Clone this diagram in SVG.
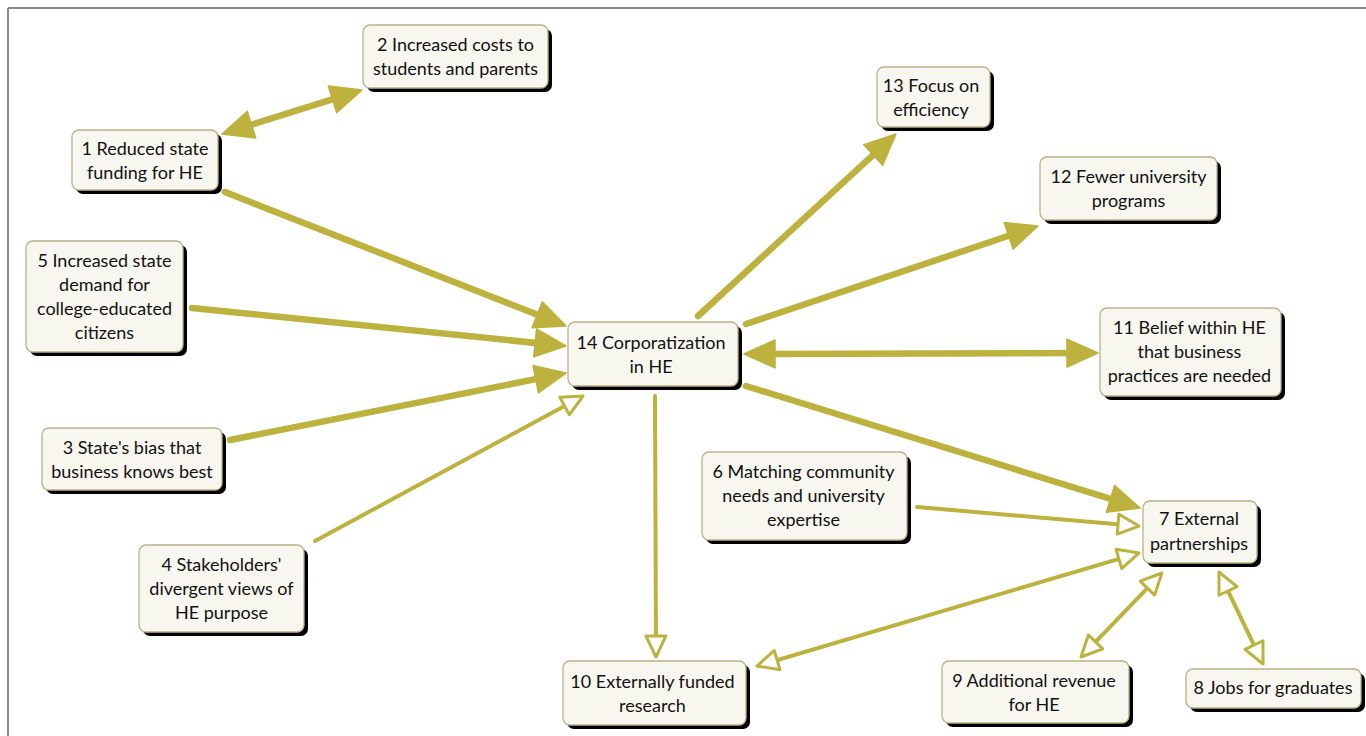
<svg xmlns="http://www.w3.org/2000/svg" width="1366" height="736" viewBox="0 0 1366 736">
  <style>
    .shadow { fill: #000; }
    .box { fill: #f8f7ef; stroke: #b9b28a; stroke-width: 1.3; }
    .label { font-family: Lato, "Liberation Sans", sans-serif; font-size: 18px; fill: #111111; text-anchor: middle; }
    .thick { stroke: #bdb23e; stroke-width: 6.5; fill: none; stroke-linecap: round; marker-end: url(#solid); }
    .thick.both { marker-start: url(#solid); }
    .thin { stroke: #bdb23e; stroke-width: 4; fill: none; stroke-linecap: round; marker-end: url(#open); }
    .thin.both { marker-start: url(#open); }
  </style>
  <defs>
    <marker id="solid" markerUnits="userSpaceOnUse" viewBox="0 0 34 32" markerWidth="34" markerHeight="32" refX="24" refY="16" orient="auto-start-reverse">
      <path d="M1,2 L32,16 L1,30 Z" fill="#bdb23e" stroke="#bdb23e" stroke-width="1.5" stroke-linejoin="round"/>
    </marker>
    <marker id="open" markerUnits="userSpaceOnUse" viewBox="0 0 28 26" markerWidth="28" markerHeight="26" refX="19" refY="13" orient="auto-start-reverse">
      <path d="M2,3 L23,13 L2,23 Z" fill="#ffffff" stroke="#bdb23e" stroke-width="3" stroke-linejoin="round"/>
    </marker>
  </defs>

  <rect width="1366" height="736" fill="#ffffff"/>
  <!-- frame -->
  <line x1="8" y1="8" x2="1366" y2="8" stroke="#8a8a8a" stroke-width="2"/>
  <line x1="8" y1="8" x2="8" y2="736" stroke="#8a8a8a" stroke-width="2"/>

  <g id="connectors">
    <line class="thick both" x1="229.6" y1="131.6" x2="354.4" y2="92.4"/>
    <line class="thick" x1="225" y1="192" x2="558.6" y2="323.1"/>
    <line class="thick" x1="192" y1="308" x2="558" y2="345.2"/>
    <line class="thick" x1="230" y1="440" x2="558.2" y2="374.6"/>
    <line class="thin" x1="315" y1="541" x2="579.5" y2="397.9"/>
    <line class="thick" x1="698" y1="316" x2="890.1" y2="139.4"/>
    <line class="thick" x1="746" y1="324" x2="1030.4" y2="228.5"/>
    <line class="thick both" x1="752" y1="354" x2="1090" y2="353"/>
    <line class="thick" x1="746" y1="386" x2="1132.4" y2="505.6"/>
    <line class="thin" x1="655" y1="396" x2="656" y2="653"/>
    <line class="thin" x1="917" y1="507" x2="1135" y2="525.7"/>
    <line class="thin both" x1="760.8" y1="664.9" x2="1135.2" y2="554.1"/>
    <line class="thin both" x1="1083.8" y1="654.1" x2="1159.2" y2="575.9"/>
    <line class="thin both" x1="1220.7" y1="575.6" x2="1261.3" y2="660.4"/>
  </g>

  <g id="node2">
    <rect class="shadow" x="367" y="29" width="185" height="63" rx="7"/>
    <rect class="box" x="363" y="25" width="185" height="63" rx="7"/>
    <text class="label" x="455.5" y="51">2 Increased costs to</text>
    <text class="label" x="455.5" y="75">students and parents</text>
  </g>
  <g id="node1">
    <rect class="shadow" x="76" y="134" width="146" height="60" rx="7"/>
    <rect class="box" x="72" y="130" width="146" height="60" rx="7"/>
    <text class="label" x="145" y="155">1 Reduced state</text>
    <text class="label" x="145" y="179">funding for HE</text>
  </g>
  <g id="node5">
    <rect class="shadow" x="30" y="245" width="157" height="111" rx="7"/>
    <rect class="box" x="26" y="241" width="157" height="111" rx="7"/>
    <text class="label" x="104.5" y="267">5 Increased state</text>
    <text class="label" x="104.5" y="291">demand for</text>
    <text class="label" x="104.5" y="315">college-educated</text>
    <text class="label" x="104.5" y="339">citizens</text>
  </g>
  <g id="node3">
    <rect class="shadow" x="46" y="432" width="180" height="62" rx="7"/>
    <rect class="box" x="42" y="428" width="180" height="62" rx="7"/>
    <text class="label" x="132" y="454">3 State's bias that</text>
    <text class="label" x="132" y="478">business knows best</text>
  </g>
  <g id="node4">
    <rect class="shadow" x="143" y="549" width="165" height="87" rx="7"/>
    <rect class="box" x="139" y="545" width="165" height="87" rx="7"/>
    <text class="label" x="221.5" y="571">4 Stakeholders'</text>
    <text class="label" x="221.5" y="595">divergent views of</text>
    <text class="label" x="221.5" y="619">HE purpose</text>
  </g>
  <g id="node14">
    <rect class="shadow" x="572" y="326" width="170" height="64" rx="7"/>
    <rect class="box" x="568" y="322" width="170" height="64" rx="7"/>
    <text class="label" x="651" y="349">14 Corporatization</text>
    <text class="label" x="651" y="373">in HE</text>
  </g>
  <g id="node13">
    <rect class="shadow" x="881" y="71" width="113" height="60" rx="7"/>
    <rect class="box" x="877" y="67" width="113" height="60" rx="7"/>
    <text class="label" x="931" y="92">13 Focus on</text>
    <text class="label" x="931" y="116">efficiency</text>
  </g>
  <g id="node12">
    <rect class="shadow" x="1044" y="161" width="177" height="63" rx="7"/>
    <rect class="box" x="1040" y="157" width="177" height="63" rx="7"/>
    <text class="label" x="1128.5" y="183">12 Fewer university</text>
    <text class="label" x="1128.5" y="207">programs</text>
  </g>
  <g id="node11">
    <rect class="shadow" x="1104" y="312" width="181" height="88" rx="7"/>
    <rect class="box" x="1100" y="308" width="181" height="88" rx="7"/>
    <text class="label" x="1189.5" y="334">11 Belief within HE</text>
    <text class="label" x="1189.5" y="358">that business</text>
    <text class="label" x="1189.5" y="382">practices are needed</text>
  </g>
  <g id="node6">
    <rect class="shadow" x="706" y="456" width="205" height="88" rx="7"/>
    <rect class="box" x="702" y="452" width="205" height="88" rx="7"/>
    <text class="label" x="803.5" y="478">6 Matching community</text>
    <text class="label" x="803.5" y="502">needs and university</text>
    <text class="label" x="803.5" y="526">expertise</text>
  </g>
  <g id="node7">
    <rect class="shadow" x="1147" y="505" width="114" height="62" rx="7"/>
    <rect class="box" x="1143" y="501" width="114" height="62" rx="7"/>
    <text class="label" x="1199" y="525">7 External</text>
    <text class="label" x="1199" y="550">partnerships</text>
  </g>
  <g id="node10">
    <rect class="shadow" x="567" y="665" width="183" height="64" rx="7"/>
    <rect class="box" x="563" y="661" width="183" height="64" rx="7"/>
    <text class="label" x="652.5" y="688">10 Externally funded</text>
    <text class="label" x="652.5" y="712">research</text>
  </g>
  <g id="node9">
    <rect class="shadow" x="946" y="665" width="187" height="62" rx="7"/>
    <rect class="box" x="942" y="661" width="187" height="62" rx="7"/>
    <text class="label" x="1034" y="687">9 Additional revenue</text>
    <text class="label" x="1034" y="711">for HE</text>
  </g>
  <g id="node8">
    <rect class="shadow" x="1190" y="673" width="175" height="39" rx="7"/>
    <rect class="box" x="1186" y="669" width="175" height="39" rx="7"/>
    <text class="label" x="1273" y="694">8 Jobs for graduates</text>
  </g>
</svg>
